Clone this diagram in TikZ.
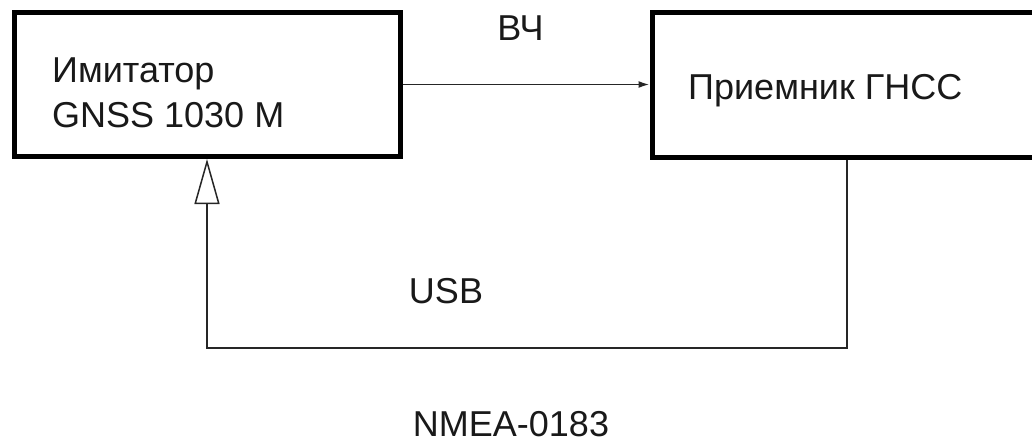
\documentclass[tikz,border=0pt]{standalone}
\usepackage{fontspec}
\setmainfont{Liberation Sans}
\usetikzlibrary{arrows.meta}
\tikzset{
  blockbox/.style={draw=black, line width=5pt, rectangle, inner sep=0pt},
  lbl/.style={inner sep=0pt, font=\fontsize{36}{45}\selectfont, text=black!90},
  conn/.style={draw=black!85, line width=1.8pt},
}
\begin{document}
\begin{tikzpicture}[x=1pt,y=-1pt]
\useasboundingbox (0,0) rectangle (1032,442);
\clip (0,0) rectangle (1032,442);
\fill[white] (0,0) rectangle (1032,442);
% blocks
\node[blockbox, minimum width=386pt, minimum height=144pt] (sim) at (207,84.5) {};
\node[blockbox, minimum width=393pt, minimum height=145pt] (rx) at (848.5,84.5) {};
% texts
\node[lbl, anchor=base west] (simt1) at (52,82) {Имитатор};
\node[lbl, anchor=base west] (simt2) at (52,127) {GNSS 1030 M};
\node[lbl, anchor=base west] (rxt) at (688,99) {Приемник ГНСС};
\node[lbl, anchor=base] (rf) at (520.5,40) {ВЧ};
\node[lbl, anchor=base] (usb) at (446,303) {USB};
\node[lbl, anchor=base] (nmea) at (511,436) {NMEA-0183};
% connectors
\draw[conn, -{Latex[length=11pt,width=7pt]}] (sim.east) -- (rx.west);
\coordinate (b1) at (846.5,348);
\coordinate (b2) at (207,348);
\draw[conn, line width=2pt, -{Triangle[open,length=45pt,width=25pt,line width=1.5pt]}]
  ([xshift=-2pt]rx.south) -- (b1) -- (b2) -- (sim.south);
\end{tikzpicture}
\end{document}
